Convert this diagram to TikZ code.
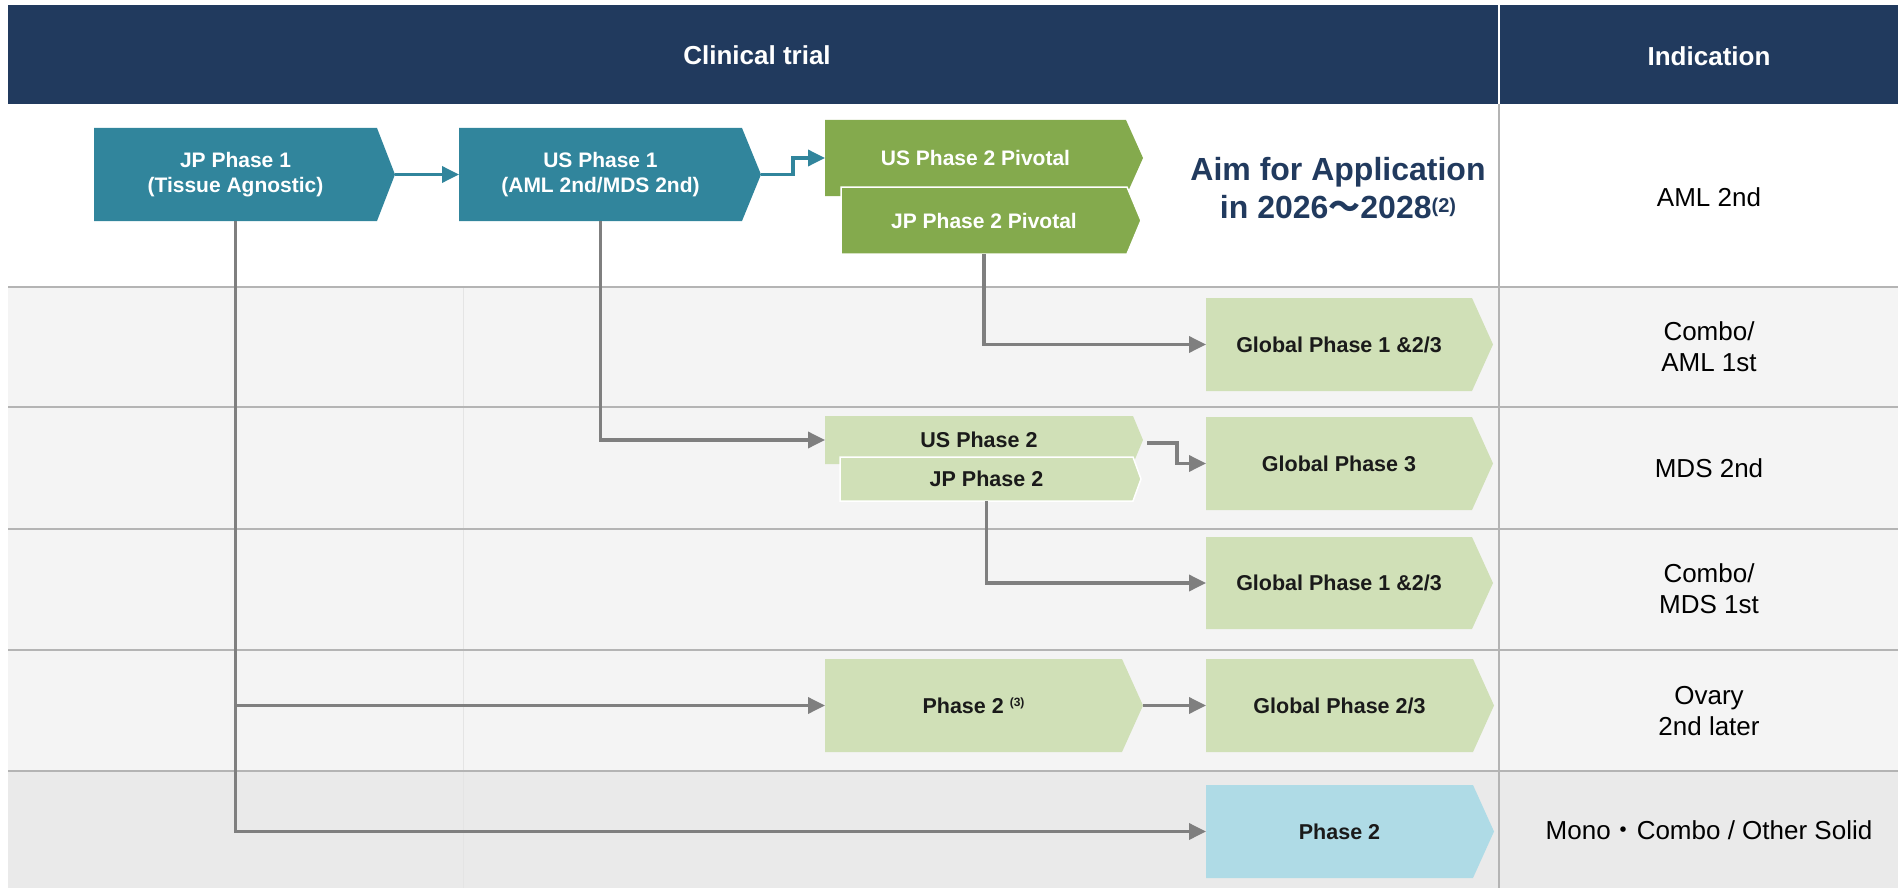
\documentclass[tikz,border=0pt]{standalone}
\usepackage{fontspec}
\setmainfont{Liberation Sans}
\newfontfamily\cjkfont{Noto Sans CJK JP}
\usetikzlibrary{arrows.meta}

\definecolor{navy}{HTML}{213A5E}
\definecolor{tealfill}{HTML}{31859C}
\definecolor{greenfill}{HTML}{84AA4D}
\definecolor{lightgreen}{HTML}{D0E0B7}
\definecolor{lightblue}{HTML}{AFDBE6}
\definecolor{arrowgray}{HTML}{7F7F7F}
\definecolor{gridgray}{HTML}{B4B4B4}
\definecolor{rowbg}{HTML}{F4F4F4}
\definecolor{lastrowbg}{HTML}{EAEAEA}
\definecolor{faintline}{HTML}{E4E4E4}
\definecolor{darktext}{HTML}{1A1A1A}

% pentagon-shaped phase box: name, shape style, text style, x, y, width, height, tip depth, label
\newcommand\phasebox[9]{%
  \path[#2] (#4,#5) -- ++(#6,0) -- ++(#8,#7/2) -- ++(-#8,#7/2) -- ++(-#6,0) -- cycle;
  \node[#3, anchor=north west, minimum width=#6pt, minimum height=#7pt,
        inner sep=0pt, outer sep=0pt, align=center] (#1) at (#4,#5) {#9};
  \coordinate (#1-tip) at (#4+#6+#8,#5+#7/2);
}

\begin{document}
\begin{tikzpicture}[x=1pt,y=-1pt,
  tealbox/.style={fill=tealfill},
  greenbox/.style={fill=greenfill},
  lightbox/.style={fill=lightgreen},
  bluebox/.style={fill=lightblue},
  outlined/.style={draw=white, line width=1.5pt},
  whitelabel/.style={text=white, font=\bfseries\fontsize{21}{25}\selectfont},
  darklabel/.style={text=darktext, font=\bfseries\fontsize{21.5}{25}\selectfont},
  headtext/.style={text=white, font=\bfseries\fontsize{26}{30}\selectfont},
  indtext/.style={text=black, align=center, font=\fontsize{26}{31}\selectfont},
  aimtext/.style={text=navy, align=center, font=\bfseries\fontsize{32}{38}\selectfont},
  rowline/.style={draw=gridgray, line width=2pt},
  tealarrow/.style={draw=tealfill, line width=3.5pt, -{Triangle[length=17pt,width=16pt]}},
  grayarrow/.style={draw=arrowgray, line width=3.5pt, -{Triangle[length=17pt,width=16pt]}},
]
\useasboundingbox (0,0) rectangle (1898,888);

% header band
\fill[navy] (8,5) rectangle (1898,104);
\draw[white, line width=1.5pt] (1499,5) -- (1499,104);
\node[headtext] (hclin) at (757,55) {Clinical trial};
\node[headtext] (hind) at (1709,56) {Indication};

% row backgrounds and grid
\fill[rowbg] (8,287) rectangle (1898,771);
\fill[lastrowbg] (8,771) rectangle (1898,888);
\draw[faintline, line width=1pt] (463,287) -- (463,888);
\foreach \yy in {287,407,529,650,771} \draw[rowline] (8,\yy) -- (1898,\yy);
\draw[rowline] (1499,104) -- (1499,888);

% phase boxes
\phasebox{jp1}{tealbox}{whitelabel}{94}{128}{283}{93}{18}{JP Phase 1\\(Tissue Agnostic)}
\phasebox{us1}{tealbox}{whitelabel}{459}{128}{283}{93}{19}{US Phase 1\\(AML 2nd/MDS 2nd)}
\phasebox{uspiv}{greenbox}{whitelabel}{825}{120}{301}{76}{17}{US Phase 2 Pivotal}
\phasebox{jppiv}{greenbox,outlined}{whitelabel}{841}{187}{286}{67}{14}{JP Phase 2 Pivotal}
\phasebox{gaml}{lightbox}{darklabel}{1206}{298}{266}{93}{21}{Global Phase 1 \&2/3}
\phasebox{usp2}{lightbox}{darklabel}{825}{416}{308}{48}{10}{US Phase 2}
\phasebox{jpp2}{lightbox,outlined}{darklabel}{840}{457}{293}{44}{8}{JP Phase 2}
\phasebox{g3}{lightbox}{darklabel}{1206}{417}{266}{93}{21}{Global Phase 3}
\phasebox{gmds}{lightbox}{darklabel}{1206}{537}{266}{92}{21}{Global Phase 1 \&2/3}
\phasebox{ph2}{lightbox}{darklabel}{825}{659}{297}{93}{21}{Phase 2 {\fontsize{12}{12}\selectfont\raisebox{7pt}{(3)}}}
\phasebox{g23}{lightbox}{darklabel}{1206}{659}{267}{93}{21}{Global Phase 2/3}
\phasebox{solid}{bluebox}{darklabel}{1206}{785}{267}{93}{21}{Phase 2}

% application target
\node[aimtext] (aim) at (1338,188) {Aim for Application\\in 2026{\cjkfont ～}2028{\fontsize{20}{20}\selectfont\raisebox{6pt}{(2)}}};

% indications
\node[indtext] (i1) at (1709,197) {AML 2nd};
\node[indtext] (i2) at (1709,347) {Combo/\\AML 1st};
\node[indtext] (i3) at (1709,468) {MDS 2nd};
\node[indtext] (i4) at (1709,589) {Combo/\\MDS 1st};
\node[indtext] (i5) at (1709,711) {Ovary\\2nd later};
\node[indtext] (i6) at (1709,830) {Mono{\cjkfont ・}Combo / Other Solid};

% connectors
\draw[tealarrow] (jp1-tip) -- (us1.west);
\draw[tealarrow] (us1-tip) -- ++(32,0) |- (uspiv.west);
\draw[grayarrow] (jp1.south) |- (ph2.west);
\draw[grayarrow] (jp1.south) |- (solid.west);
\draw[grayarrow] (us1.south) |- (usp2.west);
\draw[grayarrow] (jppiv.south) |- (gaml.west);
\draw[grayarrow] ([shift={(4,3)}]usp2-tip) -- ++(30,0) |- (g3.west);
\draw[grayarrow] (jpp2.south) |- (gmds.west);
\draw[grayarrow] (ph2-tip) -- (g23.west);
\end{tikzpicture}
\end{document}
